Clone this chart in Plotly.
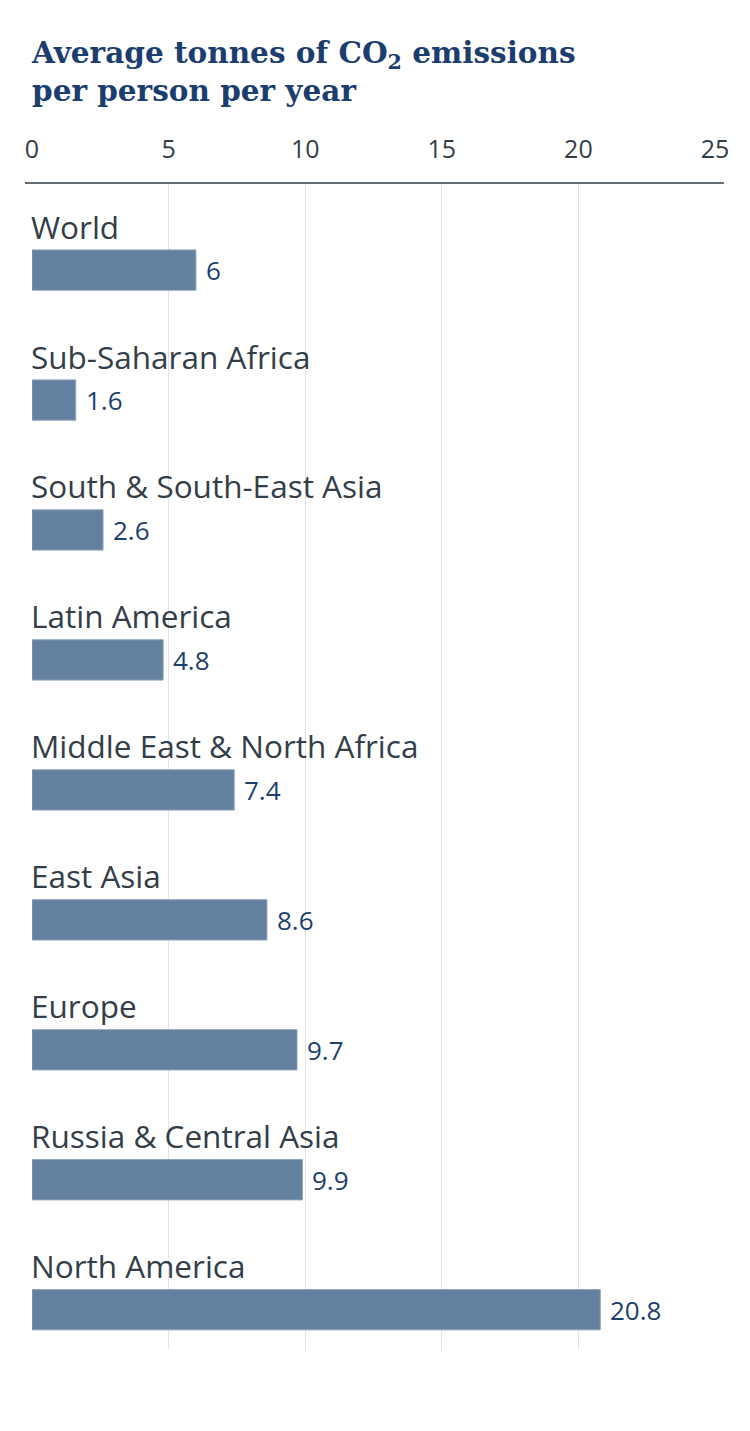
import plotly.graph_objects as go

# Regions and CO2 emissions (tonnes per person per year)
regions = [
    "World",
    "Sub-Saharan Africa",
    "South & South-East Asia",
    "Latin America",
    "Middle East & North Africa",
    "East Asia",
    "Europe",
    "Russia & Central Asia",
    "North America",
]
emissions = [6, 1.6, 2.6, 4.8, 7.4, 8.6, 9.7, 9.9, 20.8]
value_labels = ["6", "1.6", "2.6", "4.8", "7.4", "8.6", "9.7", "9.9", "20.8"]
tick_values = [0, 5, 10, 15, 20, 25]

rows = list(range(len(regions)))

fig = go.Figure(
    go.Bar(
        x=emissions,
        y=rows,
        orientation="h",
        width=0.31,
        marker=dict(color="#64809f", line=dict(color="#8fa2ba", width=1)),
        hoverinfo="skip",
    )
)

# category names above each bar
for i, name in enumerate(regions):
    fig.add_annotation(
        x=0, y=i, xref="x", yref="y",
        text=name, showarrow=False,
        xanchor="left", yanchor="middle", yshift=44, xshift=-3,
        font=dict(family="Open Sans", size=31.5, color="#333e48"),
    )

# value labels at the end of bars
for i, (v, lab) in enumerate(zip(emissions, value_labels)):
    fig.add_annotation(
        x=v, y=i, xref="x", yref="y",
        text=lab, showarrow=False,
        xanchor="left", yanchor="middle", xshift=8,
        font=dict(family="Open Sans", size=26, color="#1d3f6e"),
    )

# axis line across the top
fig.add_shape(
    type="line", xref="paper", yref="paper",
    x0=-0.0103, x1=1.013, y0=1, y1=1,
    line=dict(color="#2f3b47", width=1.5),
)

# page has an 8px body margin, so the figure is sized and placed to suit
fig.update_layout(
    width=742,
    height=1423,
    margin=dict(l=24, r=35, t=175, b=81),
    plot_bgcolor="white",
    paper_bgcolor="white",
    showlegend=False,
    title=dict(
        text="Average tonnes of CO<sub>2</sub> emissions<br>per person per year",
        font=dict(family="DejaVu Serif", size=29.5, color="#1b3e6f", weight="bold"),
        xref="container", x=24 / 742, xanchor="left",
        yref="container", y=1 - 55 / 1423, yanchor="top",
    ),
    xaxis=dict(
        side="top",
        range=[0, 25],
        tickvals=tick_values,
        showgrid=True,
        gridcolor="#e3e3e3",
        gridwidth=1,
        zeroline=False,
        showline=False,
        ticks="",
        ticklabelstandoff=19,
        tickfont=dict(family="Open Sans", size=25, color="#333e48"),
        fixedrange=True,
    ),
    yaxis=dict(
        range=[8.31, -0.67],
        showgrid=False,
        zeroline=False,
        showticklabels=False,
        fixedrange=True,
    ),
)

fig.write_html("out.html")
